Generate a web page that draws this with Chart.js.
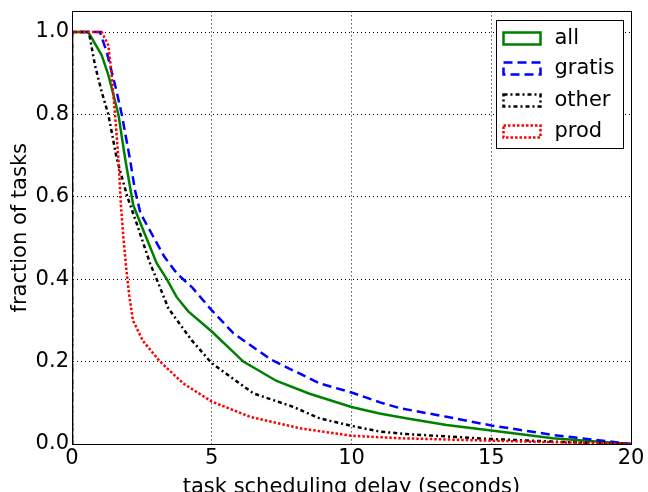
<!DOCTYPE html>
<html>
<head>
<meta charset="utf-8">
<script src="https://cdn.jsdelivr.net/npm/chart.js@4.4.0/dist/chart.umd.min.js"></script>
<style>
  html, body { margin: 0; padding: 0; background: #fff; overflow: hidden; }
  #wrap { width: 648px; height: 492px; overflow: hidden; }
</style>
</head>
<body>
<div id="wrap"><canvas id="delayChart" width="648" height="502"></canvas></div>
<script>
const xTicks = [0, 5, 10, 15, 20];
const yTicks = [0, 0.2, 0.4, 0.6, 0.8, 1.0];

// all
const allDelay = [0, 0, 0.58, 1.06, 1.3, 1.66, 1.9, 2.19, 2.55, 3.03, 3.39, 3.74, 4.16, 5.0, 6.13, 7.32, 8.5, 10, 11, 12, 13.4, 15, 17.2, 18.5, 20];
const allFrac = [0, 1, 1, 0.944, 0.896, 0.8, 0.693, 0.58, 0.519, 0.439, 0.4, 0.357, 0.322, 0.273, 0.2, 0.153, 0.122, 0.09, 0.074, 0.062, 0.046, 0.033, 0.014, 0.007, 0];

// gratis
const gratisDelay = [0, 0, 1.0, 1.24, 1.6, 1.78, 2.07, 2.25, 2.45, 2.91, 3.3, 3.75, 4.3, 4.94, 5.77, 7.14, 8.87, 10, 11.02, 11.73, 13.4, 15, 17.2, 20];
const gratisFrac = [0, 1, 1, 0.952, 0.855, 0.8, 0.693, 0.617, 0.56, 0.503, 0.455, 0.414, 0.38, 0.329, 0.269, 0.204, 0.147, 0.125, 0.101, 0.087, 0.066, 0.045, 0.022, 0];

// other
const otherDelay = [0, 0, 0.58, 0.64, 0.82, 1.06, 1.3, 1.6, 1.98, 2.31, 2.79, 3.03, 3.45, 4.28, 5, 6.49, 7.92, 8.87, 10, 11.02, 12, 15, 17.5, 20];
const otherFrac = [0, 1, 1, 0.987, 0.92, 0.855, 0.8, 0.693, 0.6, 0.536, 0.439, 0.4, 0.329, 0.252, 0.196, 0.123, 0.09, 0.062, 0.044, 0.03, 0.024, 0.012, 0.005, 0];

// prod
const prodDelay = [0, 0, 1.06, 1.3, 1.42, 1.54, 1.66, 1.75, 1.84, 1.95, 2.05, 2.18, 2.54, 3.15, 3.98, 5, 6.37, 8.16, 10, 11.73, 15, 17.5, 20];
const prodFrac = [0, 1, 1, 0.968, 0.896, 0.8, 0.693, 0.58, 0.5, 0.42, 0.36, 0.3, 0.25, 0.2, 0.147, 0.103, 0.066, 0.038, 0.02, 0.014, 0.008, 0.004, 0];

const FONT = "DejaVu Sans";

function toPoints(xs, ys) {
    return xs.map((x, i) => ({ x: x, y: ys[i] }));
}

function makeLine(label, xs, ys, color, dash, order) {
    return {
        label: label,
        data: toPoints(xs, ys),
        borderColor: color,
        borderWidth: 2.5,
        borderDash: dash,
        borderCapStyle: "butt",
        pointRadius: 0,
        tension: 0,
        fill: false,
        order: order
    };
}

// frame round the axes, like matplotlib spines
const frame = {
    id: "frame",
    afterDraw(chart) {
        const a = chart.chartArea;
        const ctx = chart.ctx;
        ctx.save();
        ctx.strokeStyle = "#000";
        ctx.lineWidth = 1;
        ctx.strokeRect(Math.round(a.left) + 0.5, Math.round(a.top) + 0.5,
            Math.round(a.right - a.left), Math.round(a.bottom - a.top));
        ctx.restore();
    }
};

// boxed legend in the upper right corner
const legendBox = {
    id: "legendBox",
    afterDraw(chart) {
        const a = chart.chartArea;
        const ctx = chart.ctx;
        const x0 = Math.round(a.right - 135) + 0.5;
        const y0 = Math.round(a.top + 9) + 0.5;
        ctx.save();
        ctx.fillStyle = "#fff";
        ctx.fillRect(x0, y0, 127, 128);
        ctx.strokeStyle = "#000";
        ctx.lineWidth = 1;
        ctx.strokeRect(x0, y0, 127, 128);
        const rows = [18, 48, 80, 111];
        chart.data.datasets.forEach((ds, i) => {
            const cy = y0 + rows[i];
            ctx.setLineDash(ds.borderDash || []);
            ctx.strokeStyle = ds.borderColor;
            ctx.lineWidth = 2.5;
            ctx.strokeRect(x0 + 7, cy - 6, 37, 12);
            ctx.setLineDash([]);
            ctx.fillStyle = "#000";
            ctx.font = "21px '" + FONT + "'";
            ctx.textBaseline = "middle";
            ctx.fillText(ds.label, x0 + 58, cy);
        });
        ctx.restore();
    }
};

const ctx = document.getElementById("delayChart").getContext("2d");

const delayChart = new Chart(ctx, {
    type: "line",
    data: {
        datasets: [
            makeLine("all", allDelay, allFrac, "#008000", [], 4),
            makeLine("gratis", gratisDelay, gratisFrac, "#0000ff", [9, 5], 3),
            makeLine("other", otherDelay, otherFrac, "#000000", [4, 3, 2, 3], 2),
            makeLine("prod", prodDelay, prodFrac, "#ff0000", [2.5, 2], 1)
        ]
    },
    options: {
        responsive: false,
        animation: false,
        layout: { padding: { left: 0, right: 17, top: 11, bottom: 0 } },
        plugins: {
            legend: { display: false },
            tooltip: { enabled: false }
        },
        scales: {
            x: {
                type: "linear",
                min: 0,
                max: 20,
                afterBuildTicks: s => { s.ticks = xTicks.map(v => ({ value: v })); },
                afterFit: s => { s.height = 58; s.paddingRight = 0; s.paddingLeft = 0; },
                ticks: {
                    color: "#000",
                    font: { family: FONT, size: 21, lineHeight: 0.8 },
                    padding: 6,
                    maxRotation: 0,
                    callback: v => String(v)
                },
                grid: { color: "#000", lineWidth: 1, drawTicks: false },
                border: { display: true, color: "#000", width: 1, dash: [1, 3] },
                title: {
                    display: true,
                    text: "task scheduling delay (seconds)",
                    color: "#000",
                    font: { family: FONT, size: 21 },
                    padding: { top: 0, bottom: 2 }
                }
            },
            y: {
                type: "linear",
                min: 0,
                max: 1.05,
                afterBuildTicks: s => { s.ticks = yTicks.map(v => ({ value: v })); },
                afterFit: s => { s.width = 72; },
                ticks: {
                    color: "#000",
                    font: { family: FONT, size: 21, lineHeight: 0.8 },
                    padding: 3,
                    callback: v => v.toFixed(1)
                },
                grid: { color: "#000", lineWidth: 1, drawTicks: false },
                border: { display: true, color: "#000", width: 1, dash: [1, 3] },
                title: {
                    display: true,
                    text: "fraction of tasks",
                    color: "#000",
                    font: { family: FONT, size: 21 },
                    padding: { top: 8, bottom: 0 }
                }
            }
        }
    },
    plugins: [frame, legendBox]
});
</script>
</body>
</html>
